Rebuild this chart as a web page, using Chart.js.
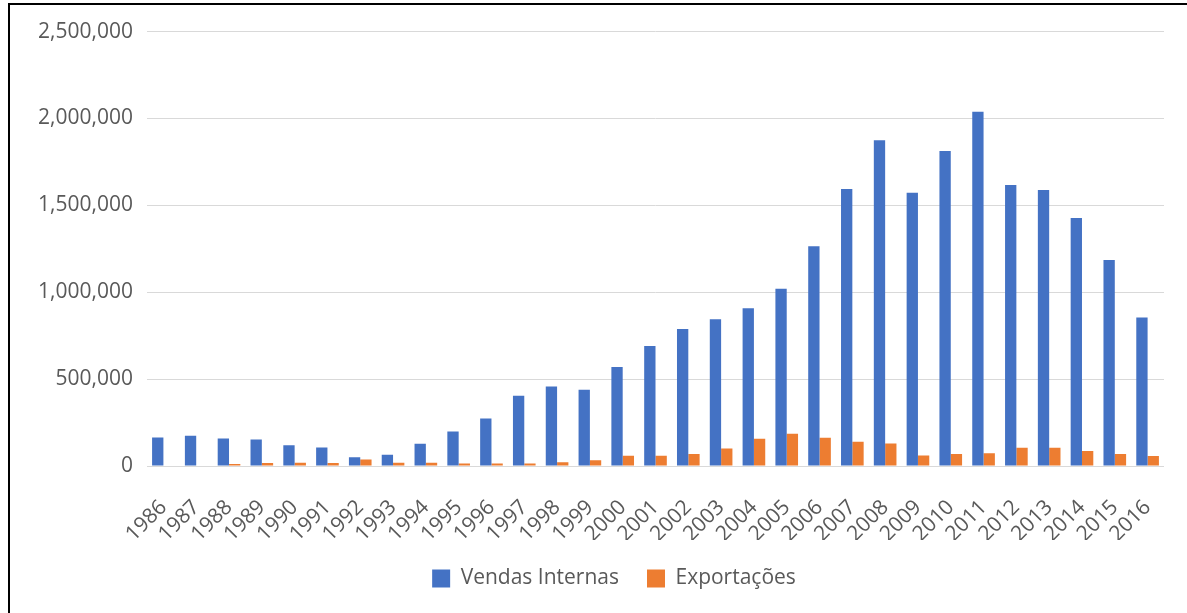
<!DOCTYPE html>
<html>
<head>
<meta charset="utf-8">
<script src="https://cdn.jsdelivr.net/npm/chart.js@4/dist/chart.umd.min.js"></script>
<style>
  html, body { margin: 0; padding: 0; background: #fff; }
  #frame {
    position: absolute; left: 8px; top: 3px;
    width: 1177px; height: 608px;
    border-left: 2px solid #000; border-top: 2px solid #000;
  }
  #vendas { display: block; }
</style>
</head>
<body>
<div id="frame"><canvas id="vendas" width="1177" height="608"></canvas></div>
<script>
const anos = ['1986','1987','1988','1989','1990','1991','1992','1993','1994','1995',
              '1996','1997','1998','1999','2000','2001','2002','2003','2004','2005',
              '2006','2007','2008','2009','2010','2011','2012','2013','2014','2015','2016'];

const vendasInternas = [164000, 174000, 158000, 153000, 120000, 107000, 51000, 65000, 128000, 198000,
                        273000, 404000, 458000, 439000, 570000, 690000, 789000, 845000, 908000, 1020000,
                        1264000, 1594000, 1874000, 1573000, 1813000, 2039000, 1617000, 1589000, 1427000, 1186000, 855000];

const exportacoes = [0, 0, 12000, 17000, 18000, 17000, 38000, 19000, 19000, 15000,
                     15000, 15000, 21000, 33000, 59000, 59000, 69000, 100000, 157000, 185000,
                     162000, 140000, 130000, 61000, 69000, 73000, 105000, 105000, 86000, 69000, 57000];

const eixoMax = 2500000;
const eixoPasso = 500000;

const cinza = '#595959';
const fonte = { family: '"Open Sans", "Noto Sans", sans-serif', size: 21 };

// legenda um pouco à direita do centro
const deslocaLegenda = {
    id: 'deslocaLegenda',
    afterLayout(chart) {
        chart.legend.left += 27;
        chart.legend.right += 27;
    }
};

new Chart(document.getElementById('vendas'), {
    type: 'bar',
    data: {
        labels: anos,
        datasets: [
            { label: 'Vendas Internas', data: vendasInternas, backgroundColor: '#4472C4' },
            { label: 'Exportações', data: exportacoes, backgroundColor: '#ED7D31' }
        ]
    },
    options: {
        responsive: false,
        animation: false,
        datasets: { bar: { categoryPercentage: 0.69, barPercentage: 1 } },
        layout: { padding: { top: 25, right: 23, left: 0, bottom: 14 } },
        plugins: {
            tooltip: { enabled: false },
            legend: {
                position: 'bottom',
                labels: { color: cinza, font: fonte, boxWidth: 18, boxHeight: 18, padding: 28 }
            }
        },
        scales: {
            x: {
                grid: { display: false, drawTicks: false },
                border: { display: false },
                ticks: { color: cinza, font: fonte, autoSkip: false, minRotation: 45, maxRotation: 45, padding: 29 },
                afterFit: s => { s.height = 74; s.paddingRight = 0; s.paddingLeft = 0; }
            },
            y: {
                min: 0, max: eixoMax,
                grid: { color: '#d9d9d9', lineWidth: 1, drawTicks: false },
                border: { display: false },
                ticks: {
                    color: cinza, font: fonte, stepSize: eixoPasso, padding: 14,
                    callback: v => v.toLocaleString('en-US')
                },
                afterFit: s => { s.width = 137; }
            }
        }
    },
    plugins: [deslocaLegenda]
});
</script>
</body>
</html>
